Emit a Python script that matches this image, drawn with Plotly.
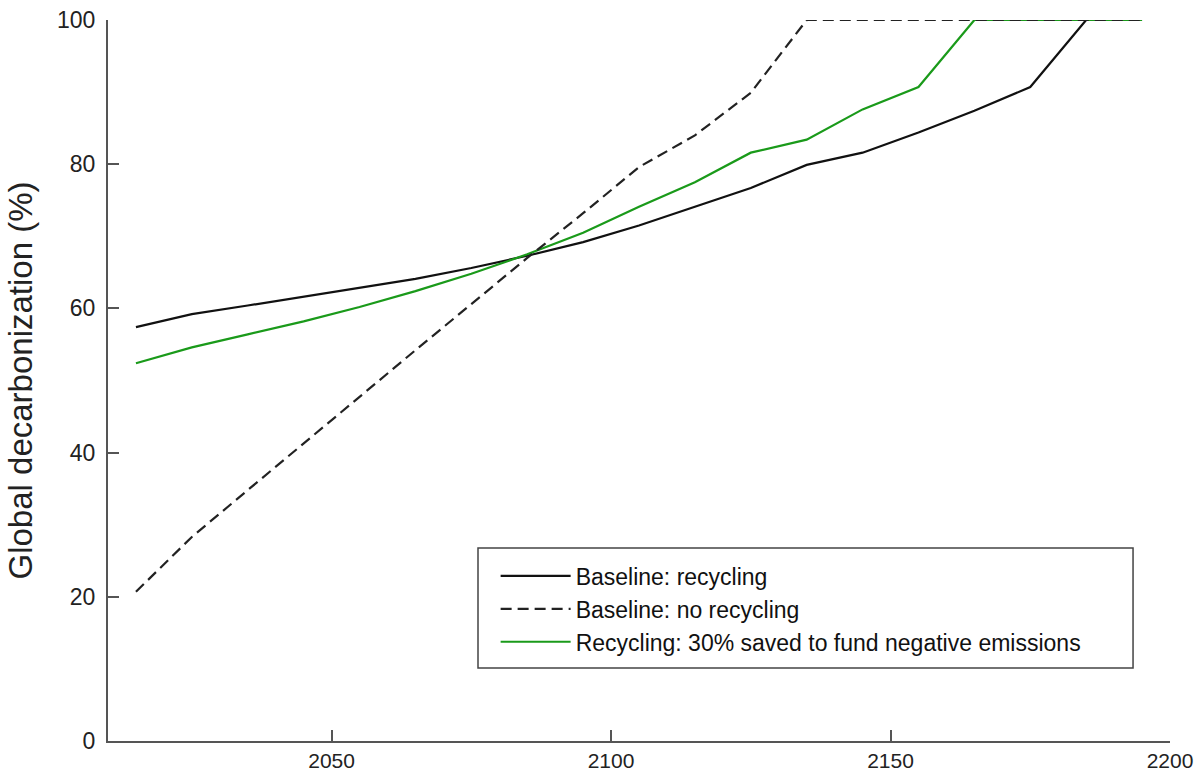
import plotly.graph_objects as go

years = [2015, 2025, 2035, 2045, 2055, 2065, 2075, 2085, 2095, 2105,
         2115, 2125, 2135, 2145, 2155, 2165, 2175, 2185, 2195]

baseline_recycling = [57.4, 59.2, 60.4, 61.6, 62.8, 64.1, 65.6, 67.3, 69.2, 71.5,
                      74.1, 76.7, 79.9, 81.6, 84.4, 87.4, 90.7, 100, 100]
baseline_no_recycling = [20.7, 28.3, 34.8, 41.3, 47.7, 54.2, 60.6, 67.0, 73.2, 79.6,
                         84.0, 89.9, 100, 100, 100, 100, 100, 100, 100]
recycling_30 = [52.4, 54.6, 56.4, 58.2, 60.2, 62.4, 64.8, 67.5, 70.5, 74.1,
                77.5, 81.6, 83.4, 87.6, 90.7, 100, 100, 100, 100]

names = ["Baseline: recycling", "Baseline: no recycling",
         "Recycling: 30% saved to fund negative emissions"]

FONT = "Liberation Sans, Arial, sans-serif"

fig = go.Figure()
fig.add_trace(go.Scatter(x=years, y=baseline_recycling, mode="lines", name=names[0],
                         line=dict(color="#111111", width=2.2), legendrank=1))
fig.add_trace(go.Scatter(x=years, y=recycling_30, mode="lines", name=names[2],
                         line=dict(color="#1a9a1a", width=2.2), legendrank=3))
fig.add_trace(go.Scatter(x=years, y=baseline_no_recycling, mode="lines", name=names[1],
                         line=dict(color="#222222", width=2.2, dash="11px,6px"),
                         legendrank=2))

axis_common = dict(showline=True, linecolor="#555555", linewidth=2, ticks="inside",
                   ticklen=11, tickwidth=2, tickcolor="#555555", showgrid=False,
                   zeroline=False, mirror=False, automargin=False)

fig.update_layout(
    width=1200, height=774,
    margin=dict(l=108, r=30, t=20, b=33),
    paper_bgcolor="white", plot_bgcolor="white",
    xaxis=dict(range=[2010, 2200], tickvals=[2050, 2100, 2150, 2200],
               ticklabelstandoff=0,
               tickfont=dict(family=FONT, size=21, color="#222222"),
               **axis_common),
    yaxis=dict(range=[0, 100], tickvals=[0, 20, 40, 60, 80, 100],
               ticklabelstandoff=6,
               tickfont=dict(family=FONT, size=23, color="#222222"),
               title=dict(text="Global decarbonization (%)", standoff=14,
                          font=dict(family=FONT, size=33, color="#222222")),
               **axis_common),
    legend=dict(x=0.365, y=0.2587, xanchor="left", yanchor="top",
                bgcolor="rgba(0,0,0,0)", borderwidth=0, itemwidth=70,
                font=dict(family=FONT, size=23, color="#111111"),
                traceorder="normal"),
    shapes=[dict(type="rect", xref="paper", yref="paper",
                 x0=0.3484, x1=0.9652, y0=0.1012, y1=0.2677,
                 line=dict(color="#444444", width=1.5), fillcolor="rgba(0,0,0,0)")],
)

fig.write_html("out.html")
